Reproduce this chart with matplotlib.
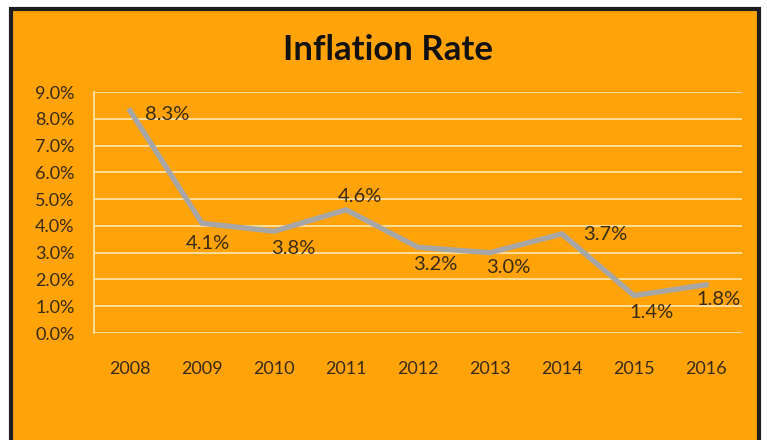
import matplotlib.pyplot as plt
from matplotlib.patches import Rectangle

# data
years = ['2008', '2009', '2010', '2011', '2012', '2013', '2014', '2015', '2016']
rates = [8.3, 4.1, 3.8, 4.6, 3.2, 3.0, 3.7, 1.4, 1.8]

# where each value label sits relative to its point (pixels, right / up)
label_dx = [37, 6, 19, 14, 17, 18, 43, 17, 12]
label_dy = [-4, -20, -17, 13, -17, -15, -1, -17, -15]

orange = '#FFA308'
text_col = '#3a2a12'

plt.rcParams['font.family'] = ['Lato', 'DejaVu Sans']

fig = plt.figure(figsize=(7.67, 4.40), dpi=100)
fig.patch.set_facecolor('white')

# chart frame (bottom edge runs off the picture)
W, H = 767, 440
frame = Rectangle((11 / W, -0.05), (759 - 11) / W, (431 + 22) / H,
                  transform=fig.transFigure, facecolor=orange,
                  edgecolor='#1e1e1e', linewidth=3, zorder=-5)
fig.patches.append(frame)

ax = fig.add_axes([94 / W, 1 - 333 / H, (742 - 94) / W, (333 - 92) / H])
ax.set_facecolor('none')
ax.set_zorder(2)

x = list(range(len(years)))
ax.plot(x, rates, color='#A6A6A6', linewidth=3.8, solid_joinstyle='miter', zorder=3)

for xi, r, dx, dy in zip(x, rates, label_dx, label_dy):
    ax.annotate(f'{r:.1f}%', (xi, r), xytext=(dx, dy), textcoords='offset pixels',
                ha='center', va='center', fontsize=14.5, color=text_col, zorder=4,
                annotation_clip=False)

ax.set_xlim(-0.5, len(years) - 0.5)
ax.set_ylim(0, 9)
ax.set_yticks(range(0, 10))
ax.set_yticklabels([f'{v:.1f}%' for v in range(0, 10)])
ax.set_xticks(x)
ax.set_xticklabels(years)
ax.tick_params(length=0, labelsize=13, labelcolor=text_col)
ax.tick_params(axis='x', pad=20)
ax.tick_params(axis='y', pad=14)
ax.grid(axis='y', color='#FFE2A8', linewidth=1.3)
ax.set_axisbelow(True)
for side in ['top', 'right', 'bottom']:
    ax.spines[side].set_visible(False)
ax.spines['left'].set_color('#FFE2A8')
ax.spines['left'].set_linewidth(1.3)

fig.text(388 / W, 1 - 50 / H, 'Inflation Rate', ha='center', va='center',
         fontsize=25, fontweight='bold', color='#111111')

fig.savefig('out.png', dpi=100, facecolor=fig.get_facecolor())
